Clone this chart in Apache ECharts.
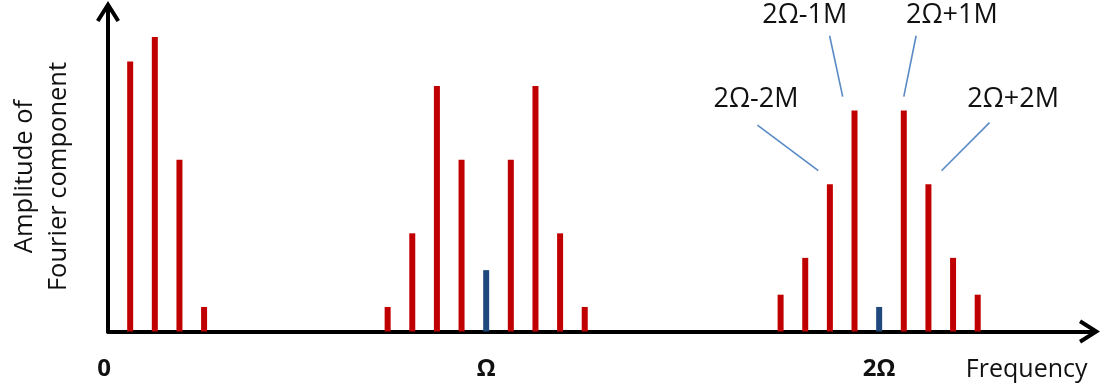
<!DOCTYPE html>
<html><head><meta charset="utf-8">
<script src="https://cdn.jsdelivr.net/npm/echarts@6/dist/echarts.min.js"></script>
<style>html,body{margin:0;padding:0;background:#fff}#c{width:1101px;height:391px}</style>
</head><body><div id="c"></div>
<script>
// Spectrum data (frequency in units of sideband spacing M, amplitude in arbitrary units)
const redFreq = [0.9, 1.9, 2.9, 3.9, 11.35, 12.35, 13.35, 14.35, 16.35, 17.35, 18.35, 19.35, 27.3, 28.3, 29.3, 30.3, 32.3, 33.3, 34.3, 35.3];
const redAmp  = [11, 12, 7, 1, 1, 4, 10, 7, 7, 10, 4, 1, 1.5, 3, 6, 9, 9, 6, 3, 1.5];
const blueFreq = [15.35, 31.3];
const blueAmp  = [2.5, 1];
// x tick labels
const tickValues = [0, 15.35, 31.3];
const tickLabels = ['0', 'Ω', '2Ω'];
// annotations (data units)
const noteLabels = ['2Ω-2M', '2Ω-1M', '2Ω+1M', '2Ω+2M'];
const noteTextX = [26.3, 28.28, 34.25, 36.74];
const noteTextY = [9.47, 12.89, 12.89, 9.47];
const noteLineFrom = [[26.36, 8.41], [29.29, 12.05], [32.80, 12.05], [35.78, 8.51]];
const noteLineTo   = [[28.83, 6.55], [29.82, 9.57], [32.30, 9.57], [33.83, 6.55]];
const xAxisName = 'Frequency';
const yAxisName = 'Amplitude of\nFourier component';

const FONT = '"Open Sans", "Liberation Sans", sans-serif';
const ARROW = 'path://M12,0 L24,19 L20.6,21.1 L12,7.5 L3.4,21.1 L0,19 Z';

const chart = echarts.init(document.getElementById('c'), null, {renderer: 'canvas'});
const axisLine = {
  show: true,
  symbol: ['none', ARROW],
  symbolSize: [24, 21],
  symbolOffset: [0, -4],
  lineStyle: {color: '#000', width: 4}
};
chart.setOption({
  animation: false,
  backgroundColor: '#fff',
  grid: {left: 105.5, right: 7.5, top: 7.5, bottom: 59.5, containLabel: false},
  xAxis: {
    type: 'value', min: 0, max: 40,
    axisLine: axisLine,
    axisTick: {show: false},
    splitLine: {show: false},
    axisLabel: {
      customValues: tickValues,
      margin: 26,
      color: '#111', fontFamily: FONT, fontSize: 24, fontWeight: 'bold',
      rich: {z: {color: '#111', fontFamily: FONT, fontSize: 24, fontWeight: 'bold', padding: [0, 8, 0, 0]}},
      formatter: function (v) {
        const i = tickValues.findIndex(t => Math.abs(t - v) < 1e-6);
        if (i < 0) return '';
        return i === 0 ? '{z|' + tickLabels[i] + '}' : tickLabels[i];
      }
    },
    name: xAxisName,
    nameLocation: 'end',
    nameGap: -6,
    nameTextStyle: {align: 'right', verticalAlign: 'top', padding: [26, 0, 0, 0], color: '#111', fontFamily: FONT, fontSize: 25}
  },
  yAxis: {
    type: 'value', min: 0, max: 13.2,
    axisLine: axisLine,
    axisTick: {show: false},
    splitLine: {show: false},
    axisLabel: {show: false},
    name: yAxisName,
    nameLocation: 'middle',
    nameRotate: 90,
    nameGap: 32,
    nameTextStyle: {color: '#111', fontFamily: FONT, fontSize: 25.5, lineHeight: 34, align: 'center', padding: [0, 14, 0, 0]}
  },
  series: [
    {
      type: 'bar', barWidth: 6, barGap: '-100%',
      itemStyle: {color: '#C00000'},
      data: redFreq.map((f, i) => [f, redAmp[i]]),
      silent: true, z: 1
    },
    {
      type: 'bar', barWidth: 6, barGap: '-100%',
      itemStyle: {color: '#1F497D'},
      data: blueFreq.map((f, i) => [f, blueAmp[i]]),
      silent: true, z: 1
    },
    {
      type: 'lines', coordinateSystem: 'cartesian2d',
      lineStyle: {color: '#5A8AC6', width: 1.6, opacity: 1},
      data: noteLineFrom.map((p, i) => ({coords: [p, noteLineTo[i]]})),
      silent: true
    },
    {
      type: 'scatter', symbolSize: 0,
      itemStyle: {opacity: 1},
      label: {show: true, position: 'inside', color: '#111', opacity: 1, fontFamily: FONT, fontSize: 27,
        formatter: p => noteLabels[p.dataIndex]},
      data: noteTextX.map((x, i) => [x, noteTextY[i]]),
      silent: true
    }
  ]
});
</script></body></html>
